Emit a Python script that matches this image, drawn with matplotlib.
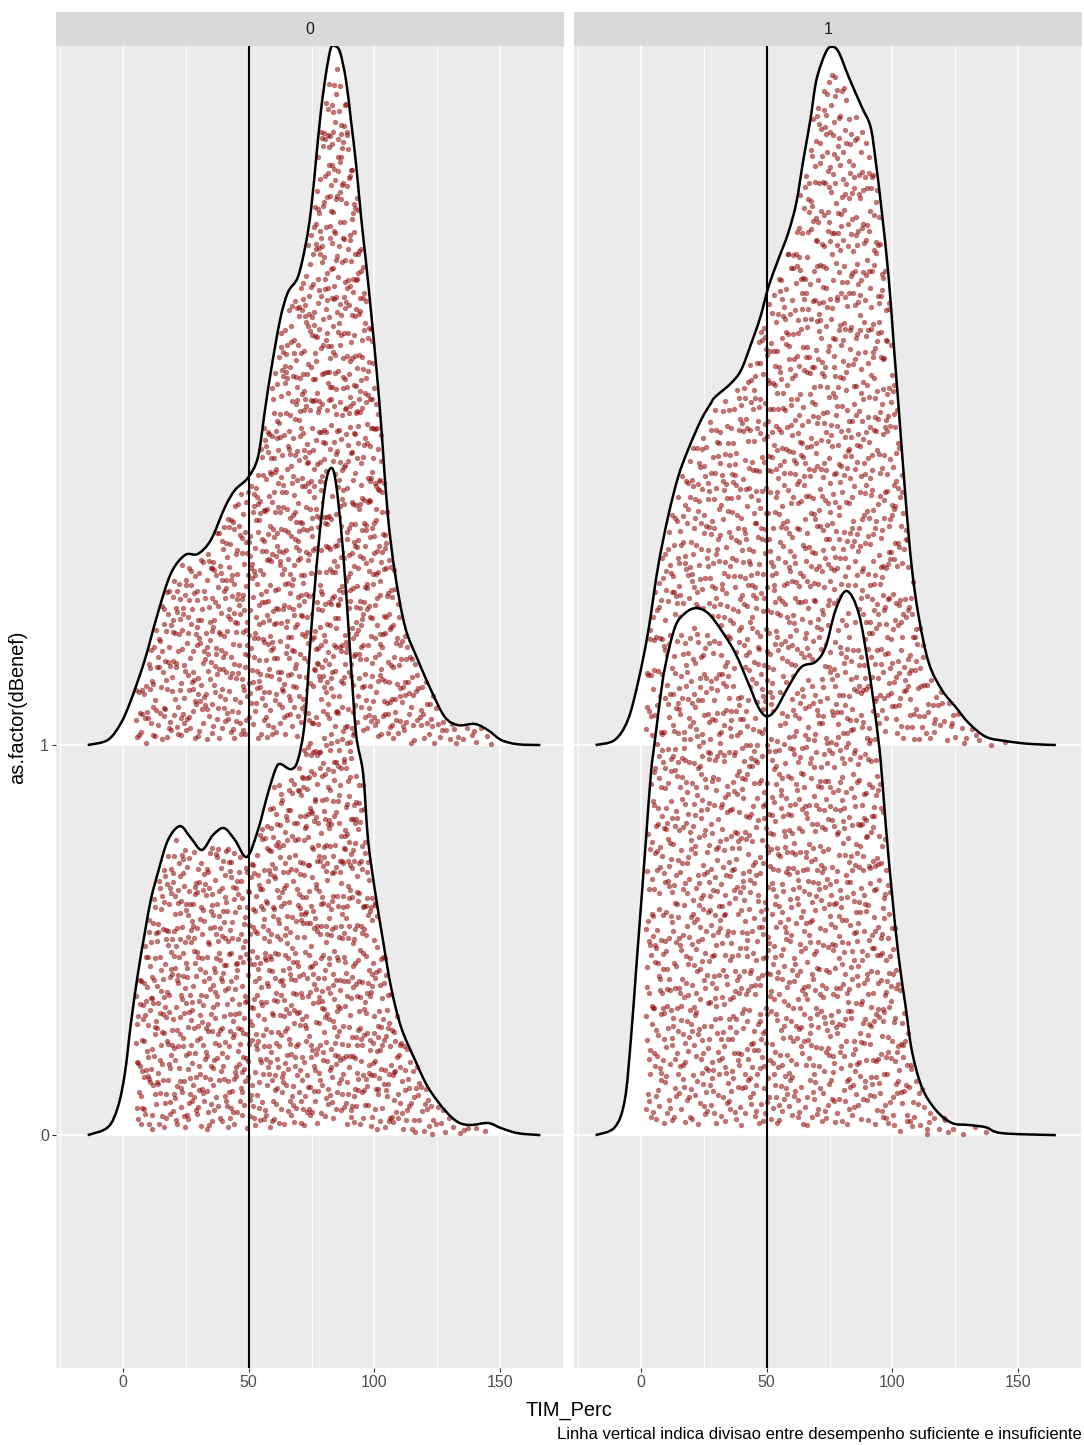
import numpy as np
import matplotlib.pyplot as plt
from matplotlib.path import Path
from matplotlib.patches import PathPatch

plt.rcParams['font.family'] = ['Liberation Sans', 'DejaVu Sans']

# ----- curvas (TIM_Perc, altura acima da linha base) -----
# painel dBenef = 0, grupo 1 (ridge de cima)
p0_g1_x = [-14, -6, -0.8, 3.2, 8.7, 13.9, 19.1, 24.7, 29.8, 35, 40.6, 44.6, 49.7, 53.7,
           56.5, 58.9, 62.5, 65.6, 69.6, 72.8, 74.8, 76.8, 78.8, 80.8, 82.7, 84.3, 86.3,
           88.7, 90.7, 92.7, 94.7, 96.7, 98.6, 100.6, 102.2, 103.4, 105.4, 108.2, 112.2,
           117.3, 122.5, 128, 133.3, 140, 145.2, 150.4, 157, 166]
p0_g1_h = [0, 0.013, 0.056, 0.115, 0.218, 0.338, 0.44, 0.487, 0.49, 0.526, 0.61, 0.654,
           0.685, 0.738, 0.859, 0.96, 1.09, 1.16, 1.2, 1.287, 1.372, 1.5, 1.628, 1.723,
           1.787, 1.792, 1.777, 1.705, 1.6, 1.49, 1.354, 1.236, 1.115, 0.98, 0.86, 0.756,
           0.585, 0.44, 0.303, 0.218, 0.141, 0.072, 0.051, 0.054, 0.038, 0.013, 0.002, 0]
# painel 0, grupo 0 (ridge de baixo)
p0_g0_x = [-14, -6, -2, 0.8, 3.2, 6, 8.7, 11.1, 13.9, 17.9, 22.7, 27, 31.4, 35.8, 40.2,
           44.6, 49.3, 53.7, 57.7, 60.9, 62.8, 66.8, 69.6, 72.4, 74.8, 77.6, 80.4, 82.7,
           84.7, 87.5, 90.3, 92.7, 95.5, 97.5, 100.2, 103.4, 106.6, 110.6, 116.2, 121.3,
           128, 133.3, 138.4, 145.2, 150.4, 157, 166]
p0_g0_h = [0, 0.02, 0.072, 0.159, 0.287, 0.415, 0.518, 0.603, 0.672, 0.756, 0.792, 0.762,
           0.731, 0.769, 0.787, 0.756, 0.713, 0.782, 0.877, 0.941, 0.951, 0.938, 0.962,
           1.064, 1.287, 1.5, 1.662, 1.71, 1.672, 1.5, 1.244, 1.03, 0.928, 0.756, 0.628,
           0.5, 0.38, 0.277, 0.192, 0.123, 0.064, 0.033, 0.026, 0.031, 0.018, 0.005, 0]
# painel dBenef = 1, grupo 1
p1_g1_x = [-18, -10.4, -5.2, -1.2, 2.8, 6.8, 10.8, 14.8, 18.7, 23.9, 27.9, 29.5, 35.9,
           39.9, 43.9, 47.5, 50.7, 54.6, 58.6, 61.8, 64.6, 67.4, 69.8, 73.4, 75.8, 78.6,
           82.6, 87.8, 91.3, 93.3, 95.7, 98.5, 100.5, 102.5, 105.3, 107.7, 110.5, 114.5,
           119.7, 125.2, 130.4, 137.2, 145.2, 154.4, 165]
p1_g1_h = [0, 0.013, 0.064, 0.159, 0.287, 0.456, 0.585, 0.687, 0.756, 0.833, 0.877, 0.892,
           0.928, 0.962, 1.03, 1.097, 1.174, 1.244, 1.313, 1.39, 1.5, 1.603, 1.705, 1.774,
           1.79, 1.777, 1.713, 1.636, 1.585, 1.5, 1.372, 1.2, 1.03, 0.864, 0.628, 0.456,
           0.328, 0.21, 0.141, 0.097, 0.056, 0.021, 0.01, 0.003, 0]
# painel 1, grupo 0
p1_g0_x = [-18, -10.4, -6.4, -4, -2, 0, 2, 4, 5.6, 7.6, 9.6, 13.6, 17.6, 21.9, 26.7, 31.9,
           37.5, 42.7, 46.7, 49.9, 53.5, 58.6, 63.8, 69.4, 73.4, 77.4, 81.8, 86.6, 90.5,
           93.3, 95.3, 97.3, 99.7, 102.5, 105.3, 107.7, 111.7, 117.3, 123.7, 130.4, 137.2,
           143.6, 165]
p1_g0_h = [0, 0.02, 0.09, 0.244, 0.415, 0.585, 0.756, 0.928, 1.013, 1.115, 1.2, 1.303,
           1.338, 1.351, 1.338, 1.295, 1.236, 1.159, 1.097, 1.074, 1.09, 1.149, 1.2, 1.213,
           1.251, 1.346, 1.395, 1.338, 1.2, 1.072, 0.962, 0.8, 0.628, 0.456, 0.328, 0.218,
           0.123, 0.064, 0.031, 0.026, 0.02, 0.005, 0]

# faixa dos dados (pontos) e numero de pontos por grupo
faixa = {('0', 1): (5, 147), ('0', 0): (5, 147), ('1', 1): (2, 147), ('1', 0): (2, 138)}
n_pontos = {('0', 1): 1400, ('0', 0): 1400, ('1', 1): 1500, ('1', 0): 1500}

curvas = {('0', 1): (p0_g1_x, p0_g1_h), ('0', 0): (p0_g0_x, p0_g0_h),
          ('1', 1): (p1_g1_x, p1_g1_h), ('1', 0): (p1_g0_x, p1_g0_h)}

paineis = ['0', '1']
corte = 50


def halton(i, b):
    f = np.ones(len(i))
    r = np.zeros(len(i))
    i = i.copy()
    while np.any(i > 0):
        f = f / b
        r = r + f * (i % b)
        i = i // b
    return r


def pontos_sina(cx, ch, lo, hi, n, inicio):
    # posicoes tipo sina: x pela acumulada da densidade, y dentro da curva
    # (sequencia de Halton, sem aleatorio)
    i = np.arange(inicio, inicio + n)
    p = halton(i, 2)
    u = halton(i, 3)
    xs = np.linspace(lo, hi, 3000)
    hs = np.interp(xs, cx, ch)
    cdf = np.cumsum(hs)
    cdf = (cdf - cdf[0]) / (cdf[-1] - cdf[0])
    xp = np.interp(p, cdf, xs)
    yp = (0.02 + 0.95 * u) * np.interp(xp, cx, ch)
    return xp, yp


def caminho(cx, cy, base=None):
    # linha suave (bezier) passando pelos pontos lidos
    P = np.column_stack([cx, cy])
    verts = [P[0]]
    codes = [Path.MOVETO]
    for i in range(len(P) - 1):
        p0 = P[i - 1] if i > 0 else P[i]
        p1 = P[i]
        p2 = P[i + 1]
        p3 = P[i + 2] if i + 2 < len(P) else P[i + 1]
        verts += [p1 + (p2 - p0) / 6, p2 - (p3 - p1) / 6, p2]
        codes += [Path.CURVE4] * 3
    if base is not None:
        verts += [(cx[-1], base), (cx[0], base), (cx[0], base)]
        codes += [Path.LINETO, Path.LINETO, Path.CLOSEPOLY]
    return Path(verts, codes)


fig = plt.figure(figsize=(10.84, 14.45), dpi=100)
lefts = [56 / 1084, 574 / 1084]
larg = 508 / 1084
base_ax = (1445 - 1368) / 1445
alt_ax = (1368 - 46) / 1445

for k, pn in enumerate(paineis):
    ax = fig.add_axes([lefts[k], base_ax, larg, alt_ax])
    ax.set_facecolor('#EBEBEB')
    ax.set_xlim(-26.6, 175.4)
    ax.set_ylim(-0.597, 2.792)
    ax.set_xticks([0, 50, 100, 150])
    ax.set_xticks([-25, 25, 75, 125, 175], minor=True)
    ax.set_yticks([0, 1])
    ax.grid(which='major', color='white', lw=1.1)
    ax.grid(which='minor', axis='x', color='white', lw=0.55)
    ax.set_axisbelow(True)
    for s in ax.spines.values():
        s.set_visible(False)
    ax.tick_params(which='major', length=3, width=0.8, color='#333333', labelsize=11.5,
                   labelcolor='#4D4D4D', pad=2)
    ax.tick_params(which='minor', length=0)
    if k == 0:
        ax.set_yticklabels(['0', '1'])
    else:
        ax.tick_params(axis='y', length=0, labelleft=False)

    z = 2
    for grupo in [1, 0]:
        cx, ch = curvas[(pn, grupo)]
        cx = np.array(cx, float)
        ch = np.array(ch, float)
        ax.add_patch(PathPatch(caminho(cx, grupo + ch, base=grupo), facecolor='white',
                               edgecolor='none', zorder=z))
        lo, hi = faixa[(pn, grupo)]
        xp, yp = pontos_sina(cx, ch, lo, hi, n_pontos[(pn, grupo)], 1 + 4000 * (2 * k + grupo))
        ax.scatter(xp, grupo + yp, s=15, color='#8B0000', alpha=0.55, lw=0, zorder=z + 1)
        ax.add_patch(PathPatch(caminho(cx, grupo + ch), fill=False, edgecolor='black',
                               lw=1.8, zorder=z + 2))
        z += 3
    ax.axvline(corte, color='black', lw=1.5, zorder=20)

    # faixa do facet
    st = fig.add_axes([lefts[k], (1445 - 46) / 1445, larg, 34 / 1445])
    st.set_facecolor('#D9D9D9')
    st.set_xticks([])
    st.set_yticks([])
    for s in st.spines.values():
        s.set_visible(False)
    st.text(0.5, 0.5, pn, ha='center', va='center', fontsize=11.5, color='#1A1A1A',
            transform=st.transAxes)

fig.text(569 / 1084, 1 - 1410 / 1445, 'TIM_Perc', ha='center', va='center', fontsize=14.4,
         color='black')
fig.text(18 / 1084, 1 - 707 / 1445, 'as.factor(dBenef)', ha='center', va='center',
         rotation=90, fontsize=14.4, color='black')
fig.text(1082 / 1084, 1 - 1434 / 1445,
         'Linha vertical indica divisao entre desempenho suficiente e insuficiente',
         ha='right', va='center', fontsize=12, color='black')

fig.savefig('out.png', dpi=100)
